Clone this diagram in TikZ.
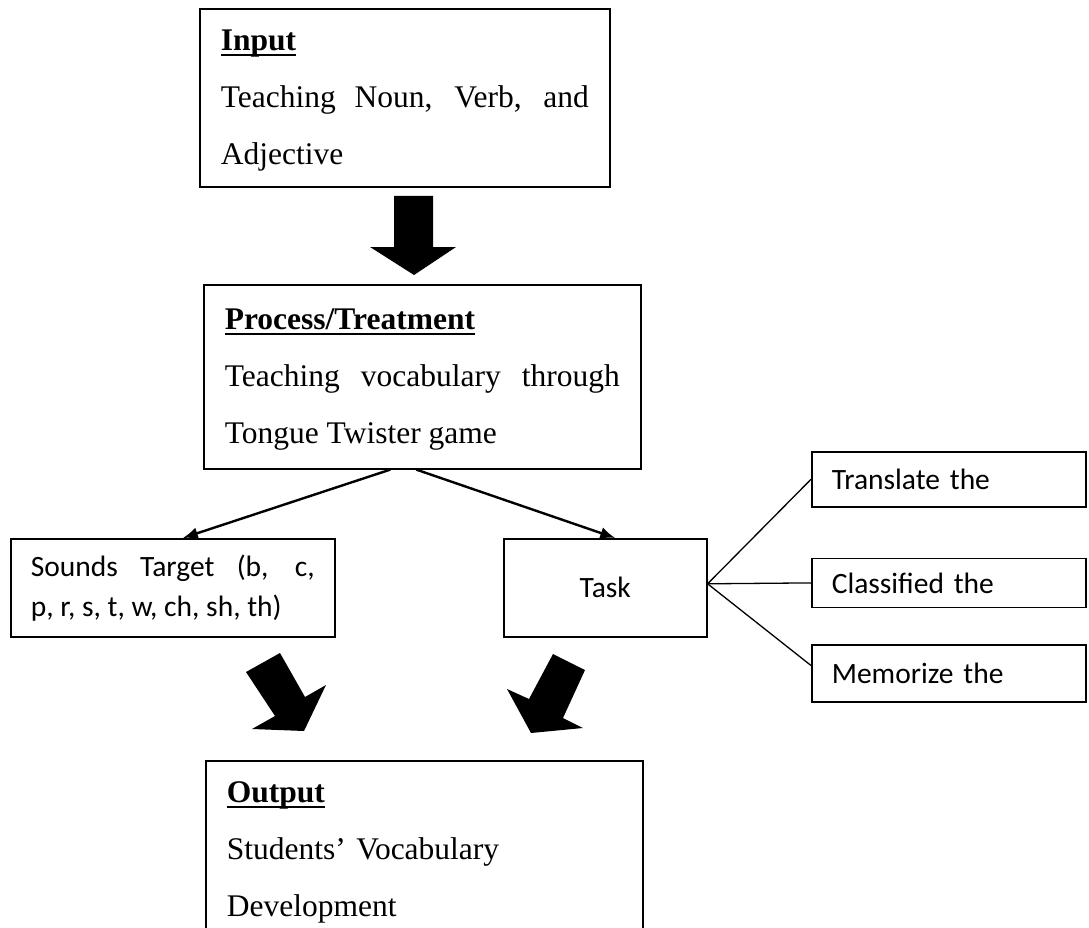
\documentclass[tikz,border=0pt]{standalone}
\usepackage{fontspec}
\setmainfont{Liberation Serif}
\newfontfamily\calibri{Carlito}
\usepackage{tikz}
\usetikzlibrary{positioning,arrows.meta}

% bold heading with a thick underline
\newcommand{\boxhead}[1]{\setbox0\hbox{\bfseries #1}\rlap{\rule[-6pt]{\wd0}{2.5pt}}\box0}
\newcommand{\linestrut}{\rule[-19pt]{0pt}{57pt}}

\begin{document}
\begin{tikzpicture}[x=1pt, y=-1pt,
                    stagebox/.style={draw, line width=1.6pt, anchor=north west, inner xsep=21pt,
                                     inner ysep=3pt, align=justify,
                                     font=\fontsize{31.5}{57}\selectfont},
                    smallbox/.style={draw, line width=1.6pt, inner xsep=20pt, inner ysep=2pt,
                                     font=\calibri\fontsize{29.5}{40}\selectfont},
                    conn/.style={line width=2.4pt, -{Latex[length=15pt,width=12pt]}},
                    thinconn/.style={line width=1.3pt},
                    fatarrow/.style={fill=black}]
\useasboundingbox (0,0) rectangle (1089,928);
\clip (0,0) rectangle (1089,928);

\node[stagebox, text width=368pt, minimum height=178pt] (input) at (199,8)
  {\linestrut\boxhead{Input}\\
   \linestrut Teaching Noun, Verb, and\linebreak\linestrut Adjective};
\node[stagebox, text width=395pt, minimum height=184pt] (process) at (203,284)
  {\linestrut\boxhead{Process/Treatment}\\
   \linestrut Teaching vocabulary through\linebreak\linestrut Tongue Twister game};

\node[smallbox, anchor=north west, text width=284pt, align=justify,
      minimum height=98pt] (sounds) at (10,538)
  {Sounds Target (b, c,\linebreak p, r, s, t, w, ch, sh, th)};
\node[smallbox, anchor=north west, minimum width=203pt, minimum height=98pt] (task) at (503,538) {Task};

\node[smallbox, anchor=north west, text width=234pt, align=left,
      minimum height=55pt] (translate) at (811,451) {Translate the};
\node[smallbox, text width=234pt, align=left, minimum height=49pt,
      below=50pt of translate] (classified) {Classified the};
\node[smallbox, text width=234pt, align=left, minimum height=57pt,
      below=36pt of classified] (memorize) {Memorize the};

\node[stagebox, text width=395pt, minimum height=178pt, align=left] (output) at (205,760)
  {\linestrut\boxhead{Output}\\
   \linestrut Students' Vocabulary\\
   \linestrut Development};

% block arrows
\fill[fatarrow] (394,196) -- (433,196) -- (433,247) -- (456,247) -- (414,275) -- (370,247) -- (394,247) -- cycle;
\fill[fatarrow] (246,672) -- (280,653) -- (305,697) -- (326,685) -- (304,731) -- (252,729) -- (275,716) -- cycle;
\fill[fatarrow] (553,654) -- (585,670) -- (563,718) -- (583,728) -- (531,733) -- (507,689) -- (529,699) -- cycle;

\draw[conn] ([xshift=-32pt]process.south) -- ([xshift=10pt]sounds.north);
\draw[conn] ([xshift=-6pt]process.south) -- ([xshift=10pt]task.north);
\draw[thinconn] ([yshift=4pt]task.east) -- (translate.west);
\draw[thinconn] ([yshift=4pt]task.east) -- (classified.west);
\draw[thinconn] ([yshift=4pt]task.east) -- ([yshift=8pt]memorize.west);
\end{tikzpicture}
\end{document}
